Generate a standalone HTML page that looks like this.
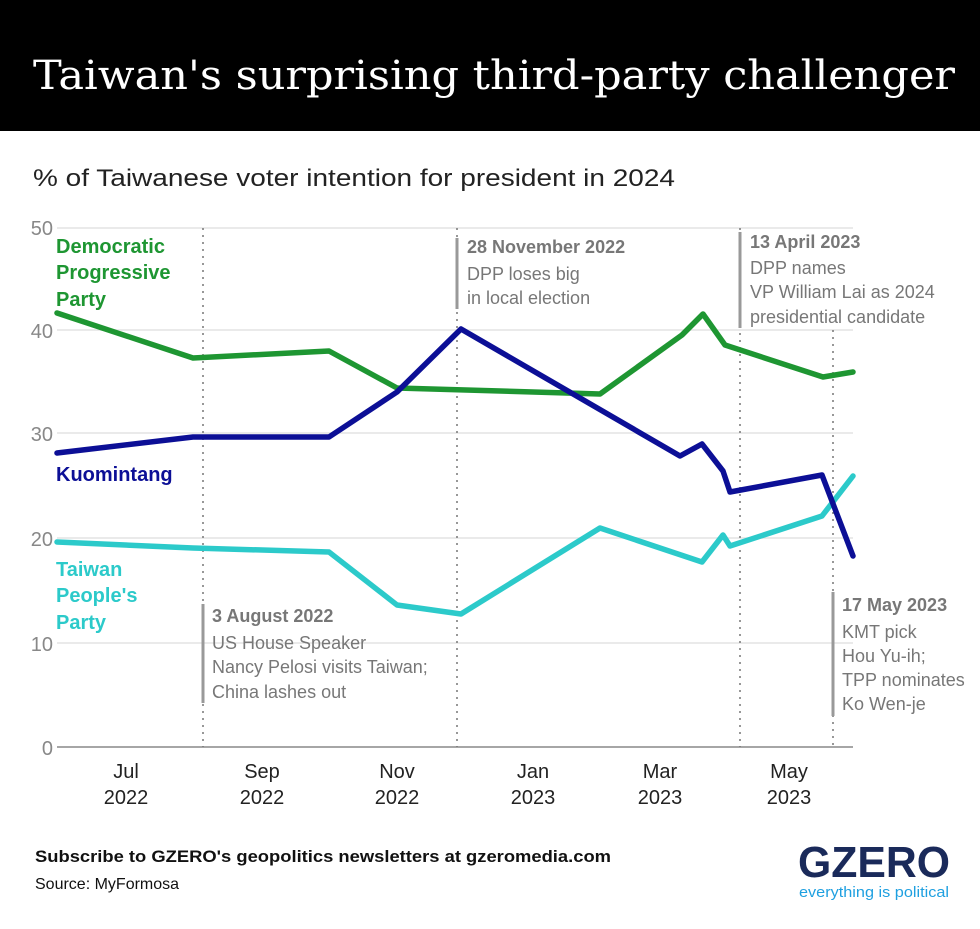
<!DOCTYPE html>
<html><head><meta charset="utf-8"><style>
body{margin:0;width:980px;height:924px;background:#fff;overflow:hidden;font-family:"Liberation Sans",sans-serif}
</style></head><body>
<svg width="980" height="924" xmlns="http://www.w3.org/2000/svg" font-family="Liberation Sans, sans-serif">
<rect x="0" y="0" width="980" height="131" fill="#000"/>
<text x="33" y="89" fill="#fff" font-family="DejaVu Serif, serif" font-size="40" textLength="922" lengthAdjust="spacingAndGlyphs">Taiwan's surprising third-party challenger</text>
<text x="33" y="186" fill="#222" font-size="24" textLength="642" lengthAdjust="spacingAndGlyphs">% of Taiwanese voter intention for president in 2024</text>
<g stroke="#e3e3e3" stroke-width="1.5">
<line x1="57" y1="228" x2="853" y2="228"/><line x1="57" y1="330" x2="853" y2="330"/><line x1="57" y1="433" x2="853" y2="433"/><line x1="57" y1="538" x2="853" y2="538"/><line x1="57" y1="643" x2="853" y2="643"/>
</g>
<line x1="57" y1="747" x2="853" y2="747" stroke="#888" stroke-width="1.5"/>
<g fill="#888" font-size="20" text-anchor="end">
<text x="53" y="235">50</text><text x="53" y="338">40</text><text x="53" y="441">30</text><text x="53" y="546">20</text><text x="53" y="651">10</text><text x="53" y="755">0</text>
</g>
<g stroke="#777" stroke-width="1.5" stroke-dasharray="2,5">
<line x1="203" y1="228" x2="203" y2="747"/><line x1="457" y1="228" x2="457" y2="747"/><line x1="740" y1="228" x2="740" y2="747"/><line x1="833" y1="330" x2="833" y2="747"/>
</g>
<g stroke="#999" stroke-width="3">
<line x1="457" y1="238" x2="457" y2="309"/><line x1="740" y1="232" x2="740" y2="328"/><line x1="203" y1="604" x2="203" y2="703"/><line x1="833" y1="592" x2="833" y2="716"/>
</g>
<g fill="none" stroke-width="5.5" stroke-linejoin="round" stroke-linecap="round">
<polyline stroke="#1e9632" points="57,313 193,358 329,351 397,388 600,394 682,335 703,314 725,345 823,377 853,372"/>
<polyline stroke="#2ccaca" points="57,542 193,548 329,552 397,605 461,614 600,528 702,562 723,535 730,546 822,516 853,476"/>
<polyline stroke="#0c0f96" points="57,453 193,437 329,437 397,392 461,329 680,456 702,444 723,471 730,492 822,475 853,556"/>
</g>
<g font-weight="bold" font-size="20">
<text fill="#1e9632" x="56" y="253">Democratic</text><text fill="#1e9632" x="56" y="279">Progressive</text><text fill="#1e9632" x="56" y="306">Party</text>
<text fill="#0c0f96" x="56" y="481">Kuomintang</text>
<text fill="#2ccaca" x="56" y="576">Taiwan</text><text fill="#2ccaca" x="56" y="602">People's</text><text fill="#2ccaca" x="56" y="629">Party</text>
</g>
<g fill="#777" font-size="18">
<text x="467" y="253" font-weight="bold">28 November 2022</text><text x="467" y="280">DPP loses big</text><text x="467" y="304">in local election</text>
<text x="750" y="248" font-weight="bold">13 April 2023</text><text x="750" y="274">DPP names</text><text x="750" y="298">VP William Lai as 2024</text><text x="750" y="323">presidential candidate</text>
<text x="212" y="622" font-weight="bold">3 August 2022</text><text x="212" y="649">US House Speaker</text><text x="212" y="673">Nancy Pelosi visits Taiwan;</text><text x="212" y="698">China lashes out</text>
<text x="842" y="611" font-weight="bold">17 May 2023</text><text x="842" y="638">KMT pick</text><text x="842" y="662">Hou Yu-ih;</text><text x="842" y="686">TPP nominates</text><text x="842" y="710">Ko Wen-je</text>
</g>
<g fill="#222" font-size="20" text-anchor="middle">
<text x="126" y="778">Jul</text><text x="126" y="804">2022</text>
<text x="262" y="778">Sep</text><text x="262" y="804">2022</text>
<text x="397" y="778">Nov</text><text x="397" y="804">2022</text>
<text x="533" y="778">Jan</text><text x="533" y="804">2023</text>
<text x="660" y="778">Mar</text><text x="660" y="804">2023</text>
<text x="789" y="778">May</text><text x="789" y="804">2023</text>
</g>
<text x="35" y="862" font-size="17" font-weight="bold" fill="#111" textLength="576" lengthAdjust="spacingAndGlyphs">Subscribe to GZERO's geopolitics newsletters at gzeromedia.com</text>
<text x="35" y="889" font-size="16" fill="#111">Source: MyFormosa</text>
<text x="874" y="877" font-size="44" font-weight="bold" fill="#1a2a5a" text-anchor="middle" textLength="152" lengthAdjust="spacingAndGlyphs">GZERO</text>
<text x="874" y="897" font-size="15" fill="#1fa0e0" text-anchor="middle" textLength="150" lengthAdjust="spacingAndGlyphs">everything is political</text>
</svg>
</body></html>
